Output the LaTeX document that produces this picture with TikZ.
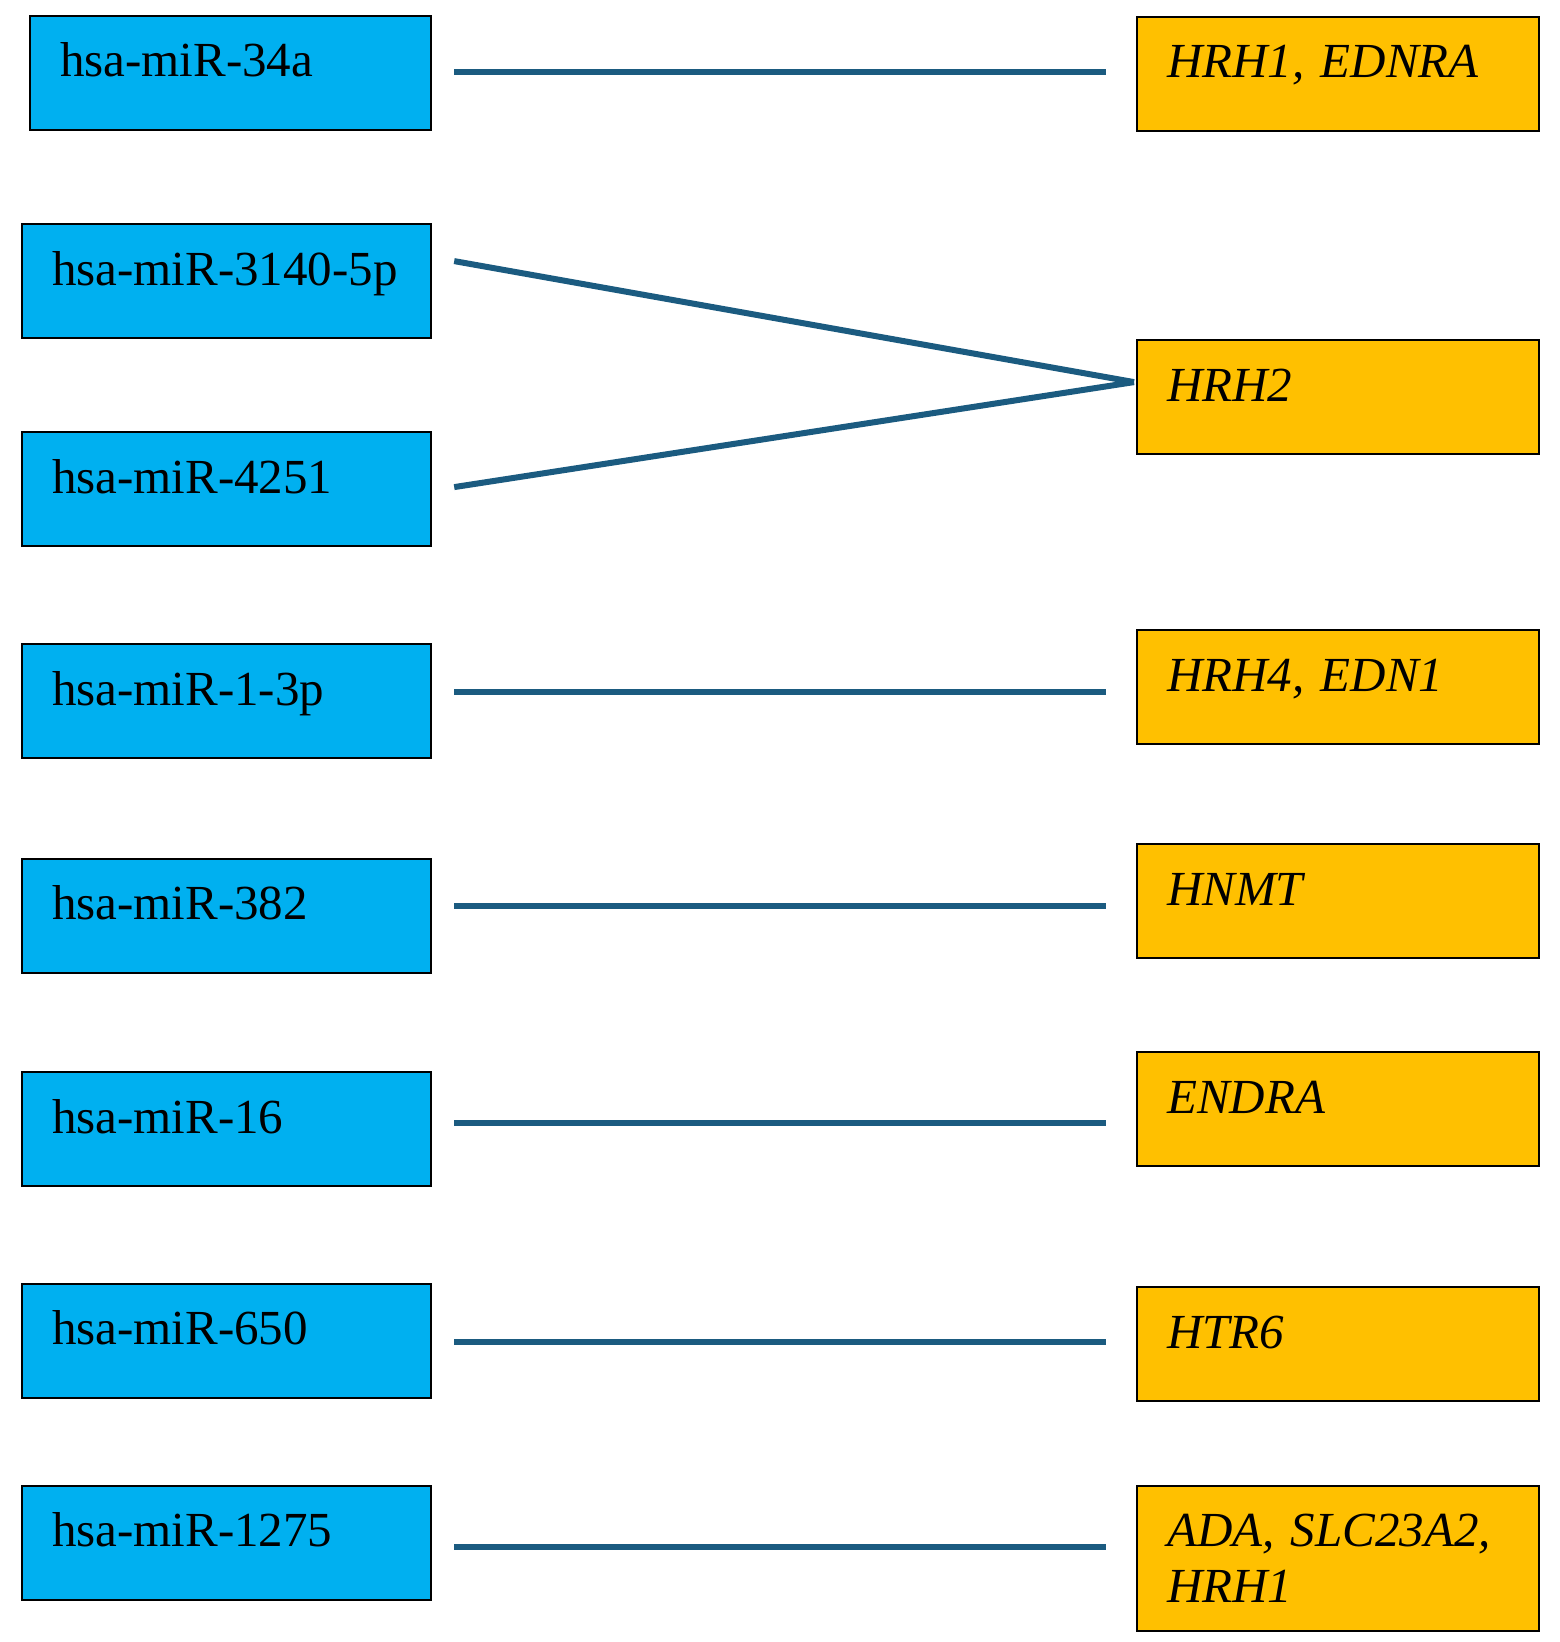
\documentclass[tikz,border=0pt]{standalone}
\usepackage{fontspec}
\setmainfont{Liberation Serif}
\usetikzlibrary{calc}
\definecolor{mirblue}{HTML}{00B0F0}
\definecolor{genegold}{HTML}{FFC000}
\definecolor{linkblue}{HTML}{1B5B80}

\begin{document}
\begin{tikzpicture}[x=0.5pt,y=-0.5pt,
		box/.style={draw=black, line width=1.1pt, anchor=north west, inner xsep=15pt, inner ysep=0pt,
			text height=30.5pt, text depth=26.5pt, align=left, font=\fontsize{24.5}{27.75}\selectfont},
		mirna/.style={box, fill=mirblue, text width=174.5pt},
		gene/.style={box, fill=genegold, text width=171pt, font=\fontsize{24.5}{27.75}\selectfont\itshape},
		link/.style={draw=linkblue, line width=3pt}]
		\useasboundingbox (0,0) rectangle (1559,1642);
		% microRNAs
		\node[mirna, text width=170.5pt] (m1) at (29,14.7) {hsa-miR-34a};
		\node[mirna] (m2) at (21,223) {\mbox{hsa-miR-3140-5p}};
		\node[mirna] (m3) at (21,431) {hsa-miR-4251};
		\node[mirna] (m4) at (21,643) {hsa-miR-1-3p};
		\node[mirna] (m5) at (21,857.5) {hsa-miR-382};
		\node[mirna] (m6) at (21,1071) {hsa-miR-16};
		\node[mirna] (m7) at (21,1282.6) {hsa-miR-650};
		\node[mirna] (m8) at (21,1484.6) {hsa-miR-1275};
		% target genes
		\node[gene] (t1) at (1136,15.7) {HRH1, EDNRA};
		\node[gene] (t2) at (1136,339) {HRH2};
		\node[gene] (t3) at (1136,629) {HRH4, EDN1};
		\node[gene] (t4) at (1136,843) {HNMT};
		\node[gene] (t5) at (1136,1051) {ENDRA};
		\node[gene] (t6) at (1136,1286) {HTR6};
		\node[gene, text depth=42.25pt] (t7) at (1136,1484.6) {ADA, SLC23A2,\\HRH1};
		% links
		\foreach \m/\t/\dy in {m1/t1/-1,m4/t3/-2,m5/t4/-2,m6/t5/4,m7/t6/0,m8/t7/-4}{
			\coordinate (j-\m) at ($(\m.east)!.5!(\t.west)+(0,\dy)$);
			\draw[link] ($(\m.east |- j-\m)+(22,0)$) -- ($(\t.west |- j-\m)+(-30,0)$);
		}
		\coordinate (h2) at ($(t2.west)+(-2,-15)$);
		\draw[link] ($(m2.east)+(22,-20)$) -- (h2);
		\draw[link] ($(m3.east)+(22,-2)$) -- (h2);
	\end{tikzpicture}
\end{document}
